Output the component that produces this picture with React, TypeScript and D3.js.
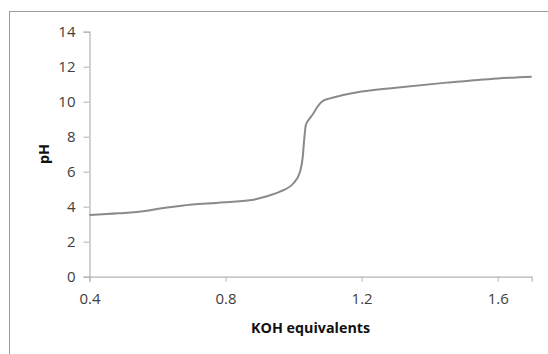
import { useEffect, useRef } from "react";
import * as d3 from "d3";

const koh = [0.4, 0.485, 0.563, 0.612, 0.671, 0.779, 0.877, 0.916, 0.96, 0.9995, 1.019, 1.027, 1.031, 1.036, 1.044, 1.058, 1.07, 1.083, 1.107, 1.146, 1.2, 1.3, 1.45, 1.6, 1.7];
const ph = [3.52, 3.62, 3.75, 3.91, 4.06, 4.23, 4.38, 4.57, 4.86, 5.34, 6.0, 6.86, 7.81, 8.67, 8.95, 9.33, 9.71, 10.0, 10.19, 10.38, 10.58, 10.8, 11.09, 11.33, 11.43];
const xTicks = [0.4, 0.8, 1.2, 1.6];
const yTicks = [0, 2, 4, 6, 8, 10, 12, 14];

export default function App() {
  const ref = useRef<SVGSVGElement>(null);

  useEffect(() => {
    const svg = d3.select(ref.current);
    svg.selectAll("*").remove();
    const width = 548;
    const height = 354;
    const left = 89.5;
    const right = 531.7;
    const top = 31.7;
    const bottom = 276.7;
    const font = "'Open Sans', sans-serif";

    const x = d3.scaleLinear().domain([0.4, 1.7]).range([left, right]);
    const y = d3.scaleLinear().domain([0, 14]).range([bottom, top]);

    svg.append("rect").attr("width", width).attr("height", height).attr("fill", "#fff");
    // outer border (left & top visible)
    svg
      .append("rect")
      .attr("x", 9.5)
      .attr("y", 11.5)
      .attr("width", width)
      .attr("height", height)
      .attr("fill", "none")
      .attr("stroke", "#9a9a9a")
      .attr("stroke-width", 1);

    const yAxis = svg
      .append("g")
      .attr("transform", `translate(${left},0)`)
      .call(d3.axisLeft(y).tickValues(yTicks).tickSize(6).tickPadding(8).tickFormat(d3.format("d")));
    const xAxis = svg
      .append("g")
      .attr("transform", `translate(0,${bottom})`)
      .call(d3.axisBottom(x).tickValues(xTicks).tickSize(5).tickPadding(12).tickFormat(d3.format(".1f")));

    [yAxis, xAxis].forEach((g) => {
      g.select(".domain").attr("stroke", "#b4b4b4").attr("stroke-width", 1.2);
      g.selectAll(".tick line").attr("stroke", "#b4b4b4");
      g.selectAll("text").attr("fill", "#404040").style("font-family", font).style("font-size", "15px");
    });

    svg
      .append("path")
      .datum(koh.map((k, i) => [k, ph[i]] as [number, number]))
      .attr("fill", "none")
      .attr("stroke", "#8a8a8a")
      .attr("stroke-width", 2)
      .attr(
        "d",
        d3
          .line<[number, number]>()
          .x((d) => x(d[0]))
          .y((d) => y(d[1]))
          .curve(d3.curveMonotoneX)
      );

    svg
      .append("text")
      .attr("x", (left + right) / 2)
      .attr("y", 333)
      .attr("text-anchor", "middle")
      .attr("fill", "#111")
      .style("font-family", font)
      .style("font-weight", "bold")
      .style("font-size", "14.3px")
      .text("KOH equivalents");

    svg
      .append("text")
      .attr("transform", `translate(49,154) rotate(-90)`)
      .attr("text-anchor", "middle")
      .attr("fill", "#111")
      .style("font-family", font)
      .style("font-weight", "bold")
      .style("font-size", "14.3px")
      .text("pH");
  }, []);

  return (
    <div style={{ position: "absolute", left: 0, top: 0 }}>
      <svg ref={ref} width={548} height={354} style={{ display: "block" }} />
    </div>
  );
}
